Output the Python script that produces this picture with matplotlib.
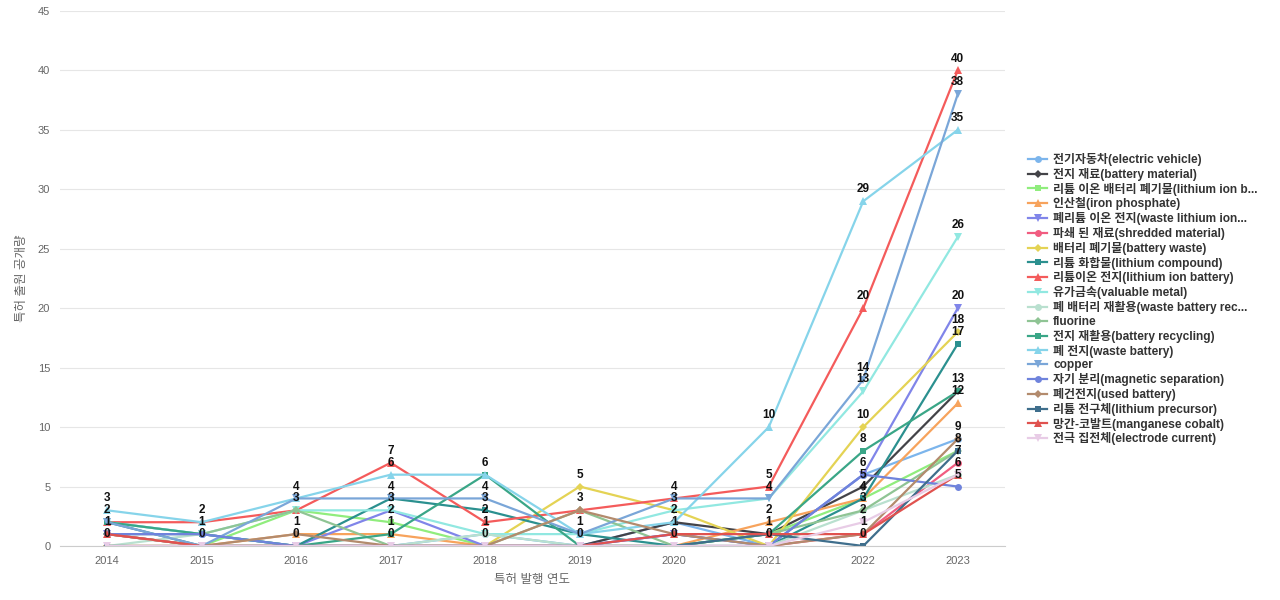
import matplotlib
matplotlib.use("Agg")
import matplotlib.pyplot as plt

plt.rcParams['font.family'] = ['Liberation Sans', 'Noto Sans CJK KR', 'DejaVu Sans']

# years on the x axis
years = ['2014', '2015', '2016', '2017', '2018', '2019', '2020', '2021', '2022', '2023']

# series names (legend text, truncated like the original)
names = [
    '전기자동차(electric vehicle)',
    '전지 재료(battery material)',
    '리튬 이온 배터리 폐기물(lithium ion b...',
    '인산철(iron phosphate)',
    '폐리튬 이온 전지(waste lithium ion...',
    '파쇄 된 재료(shredded material)',
    '배터리 폐기물(battery waste)',
    '리튬 화합물(lithium compound)',
    '리튬이온 전지(lithium ion battery)',
    '유가금속(valuable metal)',
    '폐 배터리 재활용(waste battery rec...',
    'fluorine',
    '전지 재활용(battery recycling)',
    '폐 전지(waste battery)',
    'copper',
    '자기 분리(magnetic separation)',
    '폐건전지(used battery)',
    '리튬 전구체(lithium precursor)',
    '망간-코발트(manganese cobalt)',
    '전극 집전체(electrode current)',
]

# values per series, 2014..2023
electric_vehicle = [2, 1, 0, 0, 1, 0, 2, 0, 6, 9]
battery_material = [1, 0, 0, 0, 0, 0, 2, 1, 5, 13]
li_ion_waste = [1, 0, 3, 2, 0, 0, 0, 1, 4, 8]
iron_phosphate = [0, 0, 1, 1, 0, 0, 0, 2, 4, 12]
waste_li_ion = [1, 1, 0, 3, 0, 0, 1, 0, 6, 20]
shredded = [1, 0, 0, 0, 0, 0, 0, 0, 1, 7]
battery_waste = [0, 0, 0, 0, 0, 5, 3, 0, 10, 18]
li_compound = [2, 0, 0, 4, 3, 1, 0, 0, 4, 17]
li_ion_battery = [2, 2, 3, 7, 2, 3, 4, 5, 20, 40]
valuable_metal = [2, 1, 3, 3, 1, 1, 3, 4, 13, 26]
waste_batt_rec = [0, 1, 0, 0, 1, 0, 0, 0, 3, 6]
fluorine = [1, 1, 3, 0, 0, 3, 0, 1, 3, 8]
batt_recycling = [2, 1, 0, 1, 6, 0, 0, 1, 8, 13]
waste_battery = [3, 2, 4, 6, 6, 1, 2, 10, 29, 35]
copper = [2, 0, 4, 4, 4, 1, 4, 4, 14, 38]
magnetic_sep = [1, 1, 0, 0, 0, 0, 1, 0, 6, 5]
used_battery = [0, 0, 1, 0, 0, 3, 1, 0, 1, 9]
li_precursor = [0, 0, 0, 0, 0, 0, 0, 1, 0, 8]
mn_cobalt = [1, 0, 0, 0, 0, 0, 1, 1, 1, 6]
electrode = [0, 0, 0, 0, 0, 0, 0, 0, 2, 6]

series = [electric_vehicle, battery_material, li_ion_waste, iron_phosphate, waste_li_ion,
          shredded, battery_waste, li_compound, li_ion_battery, valuable_metal,
          waste_batt_rec, fluorine, batt_recycling, waste_battery, copper,
          magnetic_sep, used_battery, li_precursor, mn_cobalt, electrode]

colors = ['#7cb5ec', '#434348', '#90ed7d', '#f7a35c', '#8085e9',
          '#f15c80', '#e4d354', '#2b908f', '#f45b5b', '#91e8e1',
          '#b9e0cf', '#8fc494', '#3aa687', '#86d4ea', '#7aa6d8',
          '#6f83dc', '#b38b6d', '#3f6e8c', '#e0524f', '#e8cce6']
markers = ['o', 'D', 's', '^', 'v'] * 4
msizes = {'o': 5, 'D': 4, 's': 5, '^': 5.5, 'v': 5.5}

fig = plt.figure(figsize=(12.8, 6), dpi=100)
ax = fig.add_axes([60 / 1280, 54 / 600, 945 / 1280, 535 / 600])

x = list(range(len(years)))
for vals, name, c, m in zip(series, names, colors, markers):
    ax.plot(x, vals, color=c, marker=m, markersize=msizes[m], linewidth=1.6,
            label=name, markeredgewidth=0)

# value labels: one per distinct value in each year
for i in x:
    seen = sorted(set(s[i] for s in series))
    for v in seen:
        ax.text(i, v + 0.5, str(v), ha='center', va='bottom', fontsize=8.5,
                fontweight='bold', color='#111111', zorder=10)

ax.set_xlim(-0.5, len(years) - 0.5)
ax.set_ylim(0, 45)
ax.set_yticks(range(0, 46, 5))
ax.set_xticks(x)
ax.set_xticklabels(years)
ax.grid(axis='y', color='#e6e6e6', linewidth=0.8)
ax.set_axisbelow(True)
for s in ['top', 'right', 'left']:
    ax.spines[s].set_visible(False)
ax.spines['bottom'].set_color('#cccccc')
ax.tick_params(axis='both', length=0, labelsize=8, labelcolor='#666666', pad=7)
ax.set_xlabel('특허 발행 연도', fontsize=9, color='#666666', labelpad=6)
ax.set_ylabel('특허 출원 공개량', fontsize=9, color='#666666', labelpad=7)

fig.legend(loc='upper left', bbox_to_anchor=(1022 / 1280, 1 - 147 / 600),
           frameon=False, handlelength=1.6, handletextpad=0.5,
           labelspacing=0.15, borderpad=0,
           prop={'weight': 'bold', 'size': 8.6,
                 'family': ['Liberation Sans', 'Noto Sans CJK KR', 'DejaVu Sans']},
           labelcolor='#333333')

fig.savefig('out.png', dpi=100)
